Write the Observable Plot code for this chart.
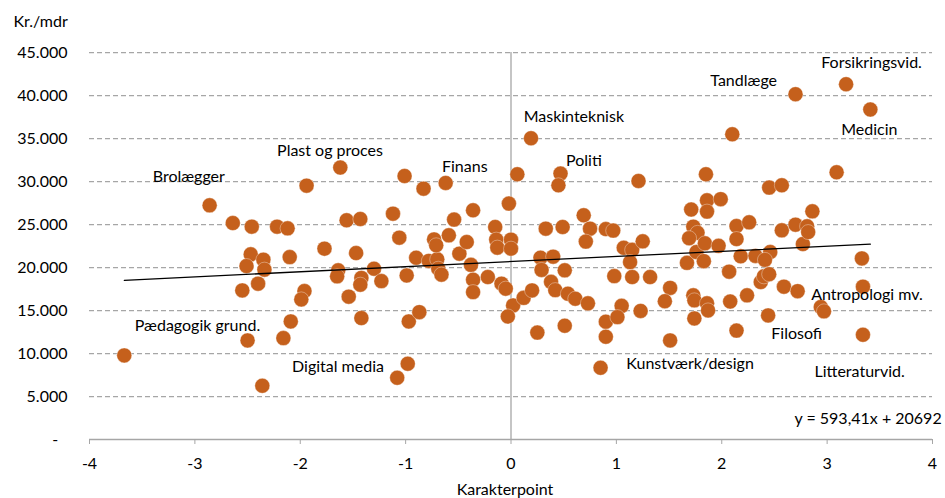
<!DOCTYPE html>
<html>
<head>
<meta charset="utf-8">
<script src="https://cdn.jsdelivr.net/npm/d3@7"></script>
<script src="https://cdn.jsdelivr.net/npm/@observablehq/plot@0.6"></script>
<style>
  html, body { margin: 0; padding: 0; background: #fff; }
  #chart { width: 945px; height: 498px; }
</style>
</head>
<body>
<div id="chart"></div>
<script>
// Karakterpoint (x) and monthly pay Kr./mdr (y), one entry per education
const karakter = [
  -3.67,-2.86,-2.64,-2.46,-2.22,-2.12,-1.94,-1.62,-1.56,-1.43,
  -2.47,-2.51,-2.35,-2.34,-2.40,-2.55,-2.10,-1.96,-1.99,-2.09,
  -2.16,-2.50,-2.36,-1.77,-1.64,-1.65,-1.47,-1.30,-1.42,-1.43,
  -1.54,-1.23,-1.42,-1.12,-1.06,-1.01,-0.99,-0.98,-1.08,-0.97,
  -0.87,-0.90,-0.83,-0.78,-0.70,-0.69,-0.66,-0.73,-0.71,-0.62,
  -0.59,-0.54,-0.49,-0.42,-0.36,-0.38,-0.36,-0.36,-0.22,-0.15,
  -0.14,-0.13,0.00,0.00,-0.02,-0.09,-0.05,0.02,-0.03,0.06,
  0.19,0.47,0.45,0.12,0.20,0.28,0.40,0.29,0.51,0.38,
  0.42,0.54,0.61,0.73,0.25,0.51,0.90,0.90,0.85,0.33,
  0.49,0.69,0.75,0.90,0.97,0.71,0.98,1.05,1.01,1.07,
  1.15,1.13,1.15,1.32,1.21,1.25,1.23,1.51,1.46,1.51,
  1.67,1.76,1.83,1.71,1.86,1.99,1.86,1.85,1.73,1.77,
  1.69,1.84,1.97,1.73,1.74,1.86,1.87,1.74,2.10,2.14,
  2.26,2.14,2.18,2.07,2.08,2.14,2.24,2.32,2.46,2.41,
  2.37,2.40,2.45,2.44,2.45,2.57,2.57,2.59,2.70,2.70,
  2.72,2.77,2.81,2.82,2.86,2.94,2.97,3.09,3.18,3.41,
  3.33,3.34,3.34
];
const loen = [
  9780,27230,25170,24750,24750,24550,29520,31620,25490,25640,
  21530,20170,20910,19750,18120,17340,21210,17260,16290,13730,
  11790,11520,6250,22190,19670,18970,21680,19860,18790,18000,
  16610,18420,14120,26260,23470,30640,19080,8810,7180,13730,
  14810,21140,29170,20770,20950,19860,19170,23270,22580,29830,
  23740,25570,21610,22960,26650,20310,18580,17140,18890,24710,
  23240,22310,23240,22190,27430,18120,17540,15590,14310,30840,
  35030,30920,29560,16470,17340,21140,21260,19720,19670,18330,
  17370,16950,16370,15830,12430,13230,13700,11950,8340,24520,
  24710,26070,24520,24470,24290,23010,19000,15540,14230,22290,
  22050,20630,18890,18890,30060,23040,14950,17630,16080,11520,
  20540,21800,20740,26740,27810,27950,26500,30840,24750,24030,
  23410,22810,22520,16760,16180,15830,15010,14080,35490,24820,
  25250,23310,21300,19520,16040,12660,16760,21350,21800,20890,
  18310,18970,19220,14430,29290,29560,24320,17770,40150,24980,
  17250,22730,24790,24120,26530,15400,14900,31070,41310,38370,
  21060,17770,12180
];

// Annotation labels (text start, vertical middle, in data units)
const labelText = ["Brolægger","Plast og proces","Finans","Maskinteknisk","Politi","Tandlæge",
  "Forsikringsvid.","Medicin","Pædagogik grund.","Digital media","Kunstværk/design",
  "Filosofi","Antropologi mv.","Litteraturvid."];
const labelX = [-3.40,-2.22,-0.655,0.12,0.522,1.891,2.944,3.134,-3.571,-2.078,1.094,2.47,2.849,2.88];
const labelY = [30490,33510,31710,37470,32350,41660,43810,35960,13270,8490,8790,12280,16760,7910];

// Trend line (Excel linear fit shown on chart)
const trendSlope = 593.41;
const trendIntercept = 20692;
const equationX = 2.69;
const equationY = 2390;

// Axes
const xTicks = [-4,-3,-2,-1,0,1,2,3,4];
const yTicks = [0,5000,10000,15000,20000,25000,30000,35000,40000,45000];
const yTitle = "Kr./mdr";
const xTitle = "Karakterpoint";

const points = karakter.map((x, i) => ({x, y: loen[i]}));
const labels = labelText.map((t, i) => ({t, x: labelX[i], y: labelY[i]}));
const [xMin, xMax] = d3.extent(karakter);
const trend = [xMin, xMax].map(x => ({x, y: trendSlope * x + trendIntercept}));
const eqText = `y = ${String(trendSlope).replace(".", ",")}x + ${trendIntercept}`;

const fmtY = d => d === 0 ? "-\u2007" : String(d).replace(/\B(?=(\d{3})+(?!\d))/g, ".");
const grey = "#a6a6a6";

const chart = Plot.plot({
  width: 945,
  height: 498,
  marginLeft: 89,
  marginRight: 13,
  marginTop: 52,
  marginBottom: 59,
  style: {fontFamily: "Lato, 'Open Sans', sans-serif", fontSize: "16px", color: "#000", background: "#fff", overflow: "visible"},
  x: {domain: [-4, 4]},
  y: {domain: [0, 45000]},
  marks: [
    Plot.ruleY(yTicks.filter(d => d > 0), {stroke: grey, strokeWidth: 1.25, strokeDasharray: "5,3"}),
    Plot.ruleX([0], {stroke: grey, strokeWidth: 1.3}),
    Plot.ruleY([0], {stroke: grey, strokeWidth: 1.3}),
    Plot.axisX({ticks: xTicks, tickSize: 5, tickPadding: 13, stroke: grey, fill: "#000", label: null, tickFormat: d => String(d), fontSize: 16}),
    Plot.axisY({ticks: yTicks, tickSize: 0, tickPadding: 22, label: null, tickFormat: fmtY, fill: "#000", fontSize: 16}),
    Plot.dot(points, {x: "x", y: "y", r: 7.5, fill: "#c5601c", stroke: "#fff", strokeWidth: 0.5, strokeOpacity: 0.7}),
    Plot.line(trend, {x: "x", y: "y", stroke: "#000", strokeWidth: 1.3}),
    Plot.text(labels, {x: "x", y: "y", text: "t", textAnchor: "start", lineAnchor: "middle", fontSize: 16, fill: "#000"}),
    Plot.text([eqText], {x: equationX, y: equationY, text: d => d, textAnchor: "start", lineAnchor: "middle", fontSize: 16, fill: "#000"}),
    Plot.text([yTitle], {frameAnchor: "top-left", text: d => d, textAnchor: "start", lineAnchor: "middle", dx: -76, dy: -31, fontSize: 16, fill: "#000"}),
    Plot.text([xTitle], {frameAnchor: "bottom", text: d => d, textAnchor: "middle", lineAnchor: "bottom", dx: -6, dy: 55, fontSize: 16, fill: "#000"})
  ]
});
document.getElementById("chart").appendChild(chart);
</script>
</body>
</html>
